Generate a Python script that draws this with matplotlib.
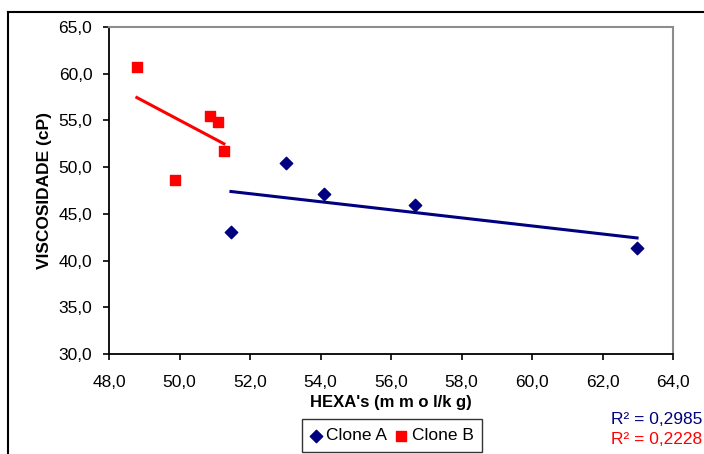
import matplotlib.pyplot as plt
import numpy as np
from matplotlib.lines import Line2D
from matplotlib.ticker import FuncFormatter

plt.rcParams['font.family'] = ['Liberation Sans', 'DejaVu Sans']

# dados
hexa_a = [51.46, 53.02, 54.10, 56.68, 62.98]
visc_a = [43.06, 50.44, 47.13, 45.95, 41.35]
hexa_b = [48.79, 49.87, 50.87, 51.09, 51.26]
visc_b = [60.72, 48.62, 55.47, 54.83, 51.73]
r2_a = '0,2985'
r2_b = '0,2228'

navy = '#000080'
red = '#FF0000'

fig = plt.figure(figsize=(7.04, 4.54), dpi=100)
ax = fig.add_axes([109 / 704, 1 - 354 / 454, 564 / 704, 327 / 454])

# linhas de tendência (regressão linear)
for xs, ys, c in [(hexa_a, visc_a, navy), (hexa_b, visc_b, red)]:
    k, b = np.polyfit(xs, ys, 1)
    xx = np.array([min(xs), max(xs)])
    ax.plot(xx, k * xx + b, color=c, lw=2.2, zorder=2)

ax.scatter(hexa_a, visc_a, marker='D', s=40, color=navy, zorder=3, label='Clone A')
ax.scatter(hexa_b, visc_b, marker='s', s=48, color=red, zorder=3, label='Clone B')

ax.set_xlim(48, 64)
ax.set_ylim(30, 65)
ax.set_xticks(np.arange(48, 64.1, 2))
ax.set_yticks(np.arange(30, 65.1, 5))
fmt = FuncFormatter(lambda v, p: f'{v:.1f}'.replace('.', ','))
ax.xaxis.set_major_formatter(fmt)
ax.yaxis.set_major_formatter(fmt)
ax.tick_params(axis='both', labelsize=12.5, direction='out', length=4, width=1.2)
ax.tick_params(axis='x', pad=11)
ax.tick_params(axis='y', pad=8)

for s in ['left', 'bottom']:
    ax.spines[s].set_color('black')
    ax.spines[s].set_linewidth(1.3)
for s in ['top', 'right']:
    ax.spines[s].set_color('#8c8c8c')
    ax.spines[s].set_linewidth(1.5)

ax.set_xlabel("HEXA's (m m o l/k g)", fontsize=12, fontweight='bold', labelpad=4)
ax.set_ylabel('VISCOSIDADE (cP)', fontsize=12.5, fontweight='bold', labelpad=5)

leg = fig.legend(loc='lower left', bbox_to_anchor=(302 / 704, 1 - 452 / 454),
                 ncol=2, fontsize=12.5, frameon=True, fancybox=False,
                 handlelength=0.6, handletextpad=0.3, columnspacing=0.5,
                 borderpad=0.5, borderaxespad=0)
leg.get_frame().set_edgecolor('black')
leg.get_frame().set_linewidth(1.0)

fig.text(702 / 704, 1 - 420 / 454, 'R\u00b2 = ' + r2_a, color=navy, fontsize=12.5,
         ha='right', va='center')
fig.text(702 / 704, 1 - 440 / 454, 'R\u00b2 = ' + r2_b, color=red, fontsize=12.5,
         ha='right', va='center')

# moldura do gráfico (cortada à direita e em baixo)
fig.add_artist(Line2D([8 / 704, 8 / 704], [0, 1 - 12 / 454], color='black', lw=1.5,
                      transform=fig.transFigure))
fig.add_artist(Line2D([8 / 704, 1], [1 - 12 / 454, 1 - 12 / 454], color='black', lw=1.5,
                      transform=fig.transFigure))

fig.savefig('out.png', dpi=100)
